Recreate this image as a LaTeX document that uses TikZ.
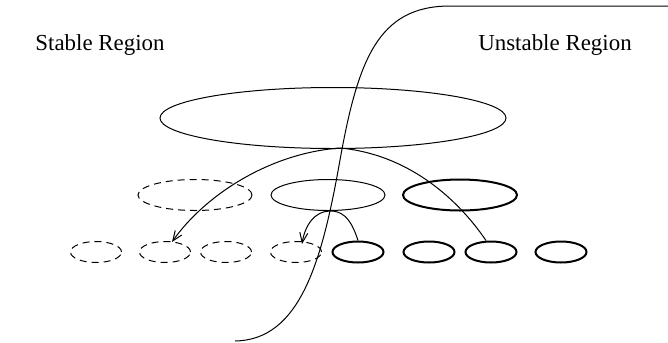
\documentclass[tikz,border=0pt]{standalone}
\usepackage{fontspec}
\setmainfont{Liberation Serif}
\usetikzlibrary{shapes.geometric,arrows.meta}
\begin{document}
\begin{tikzpicture}[x=1bp,y=-1bp,
  ell/.style={draw,ellipse,inner sep=0pt,line width=1bp},
  dell/.style={ell,dash pattern=on 7bp off 5bp},
  tell/.style={ell,line width=2bp},
  big/.style={minimum width=114bp,minimum height=31bp},
  small/.style={minimum width=51bp,minimum height=21bp},
  conn/.style={line width=1bp},
  arr/.style={conn,-{Straight Barb[length=10bp,width=8bp]}},
  lbl/.style={font=\fontsize{23}{26}\selectfont,inner sep=0pt}]
\useasboundingbox (0,0) rectangle (668,342);
% labels
\node[lbl] (st) at (100,45) {Stable Region};
\node[lbl] (un) at (555,45) {Unstable Region};
% top ellipse
\node[ell,minimum width=346bp,minimum height=61bp] (top) at (333,118) {};
% middle row
\node[dell,big] (m1) at (195,195) {};
\node[ell,big] (m2) at (328,195) {};
\node[tell,big] (m3) at (460,195) {};
% bottom row
\node[dell,small] (b1) at (96,252) {};
\node[dell,small] (b2) at (165,252) {};
\node[dell,small] (b3) at (226,252) {};
\node[dell,small] (b4) at (296,252) {};
\node[tell,small] (s1) at (358,252) {};
\node[tell,small] (s2) at (429,252) {};
\node[tell,small] (s3) at (491,252) {};
\node[tell,small] (s4) at (561,252) {};
% boundary curve
\coordinate (cb) at (235,341);
\coordinate (ct) at (450,6);
\coordinate (ce) at (668,6);
\draw[conn] (cb) .. controls (300,340) and (322,262) .. (340,160)
  .. controls (358,60) and (378,6) .. (ct) -- (ce);
% connectors
\draw[arr] ([xshift=7bp,yshift=1bp]top.south) .. controls (270,153) and (205,195) .. ([xshift=7bp,yshift=-1bp]b2.north);
\draw[conn] ([xshift=7bp,yshift=1bp]top.south) .. controls (405,154) and (455,195) .. ([xshift=-5bp]s3.north);
\draw[arr] (s1.north) .. controls (350,215) and (340,211) .. ([xshift=2bp]m2.south)
  .. controls (315,211) and (305,225) .. ([xshift=6bp,yshift=-3bp]b4.north);
\end{tikzpicture}
\end{document}
